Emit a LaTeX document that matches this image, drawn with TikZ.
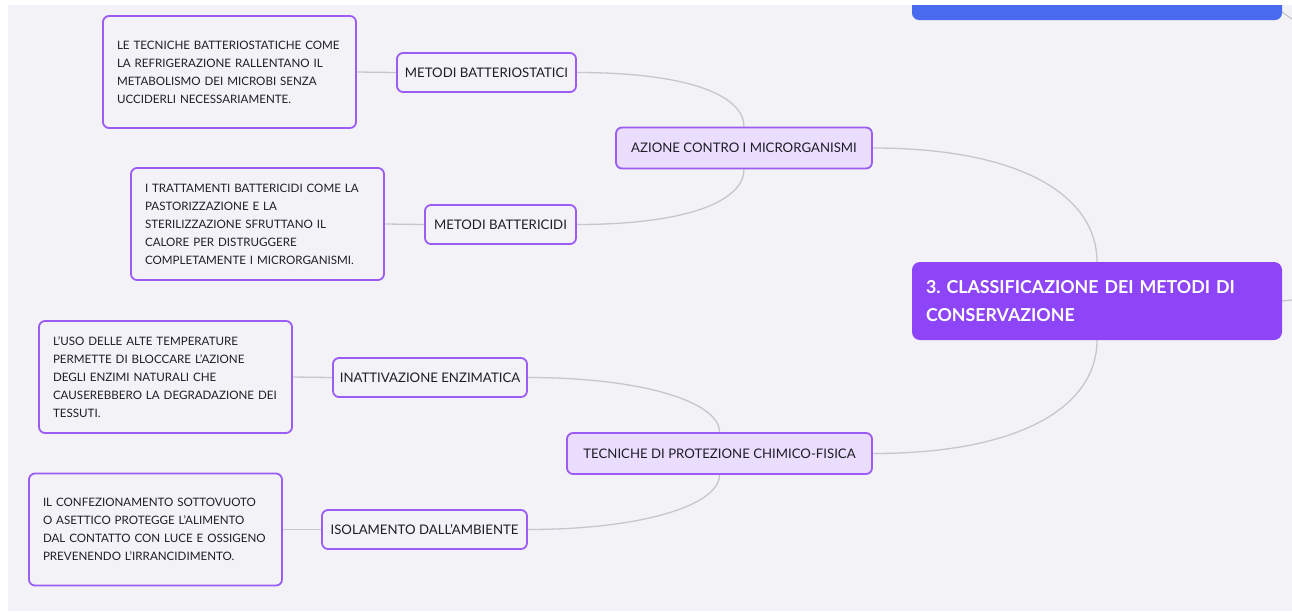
\documentclass[tikz,border=0pt]{standalone}
\usepackage{fontspec}
\setmainfont{Lato}
\frenchspacing
\definecolor{canvas}{HTML}{F2F2F7}
\definecolor{vio}{HTML}{9C5CF3}
\definecolor{lav}{HTML}{EBDDFD}
\definecolor{rootpurple}{HTML}{8E45F8}
\definecolor{barblue}{HTML}{4A6AF0}
\definecolor{gline}{HTML}{C6C6CC}
\definecolor{ink}{HTML}{1E1E28}
\pgfdeclarelayer{back}
\pgfsetlayers{back,main}
\begin{document}
\begin{tikzpicture}[x=1pt,y=-1pt,
  leaf/.style={draw=vio, line width=1.8pt, rounded corners=6pt, fill=canvas,
    text width=225pt, inner xsep=14pt, inner ysep=0pt, minimum height=112pt,
    align=left, text=ink, font=\fontsize{11.6}{18}\selectfont},
  topic/.style={draw=vio, line width=1.8pt, rounded corners=6pt, fill=canvas,
    inner sep=0pt, minimum height=39pt, text=ink,
    font=\fontsize{13.2}{15}\selectfont},
  branch/.style={topic, fill=lav, minimum height=41pt},
  rootnode/.style={fill=rootpurple, rounded corners=8pt, text width=342pt,
    inner xsep=14pt, inner ysep=0pt, minimum height=78pt, align=left,
    text=white, font=\fontsize{17.8}{28}\selectfont\bfseries},
  link/.style={draw=gline, line width=1.3pt}]
\useasboundingbox (0,0) rectangle (1292,611);

% root and the end of the previous section
\node[rootnode] (root) at (1097,301) {3. CLASSIFICAZIONE DEI METODI DI\\CONSERVAZIONE};
\begin{scope}
  \clip (8,5) rectangle (1292,611);
  \node[fill=barblue, rounded corners=7pt, minimum width=370pt, minimum height=30pt, inner sep=0pt] (prev) at (1097,5) {};
\end{scope}
\coordinate (prevend) at (1282,12);
\coordinate (prevout) at (1292,19);
\coordinate (rootout) at (1292,300);

% first branch
\node[branch, minimum width=256pt] (azione) at (744,148) {AZIONE CONTRO I MICRORGANISMI};
\node[topic, minimum width=179pt] (bstat) at (486.5,72.5) {METODI BATTERIOSTATICI};
\node[topic, minimum width=151pt] (bcid) at (500.5,224.5) {METODI BATTERICIDI};
\node[leaf] (lstat) at (229.5,72) {\mbox{LE TECNICHE BATTERIOSTATICHE COME}\\LA REFRIGERAZIONE RALLENTANO IL\\METABOLISMO DEI MICROBI SENZA\\UCCIDERLI NECESSARIAMENTE.};
\node[leaf] (lcid) at (257.5,224) {\mbox{I TRATTAMENTI BATTERICIDI COME LA}\\PASTORIZZAZIONE E LA\\STERILIZZAZIONE SFRUTTANO IL\\CALORE PER DISTRUGGERE\\\mbox{COMPLETAMENTE I MICRORGANISMI.}};

% second branch
\node[branch, minimum width=305pt] (tec) at (719.5,453.5) {TECNICHE DI PROTEZIONE CHIMICO-FISICA};
\node[topic, minimum width=194pt] (enz) at (430,377.5) {INATTIVAZIONE ENZIMATICA};
\node[topic, minimum width=205pt] (iso) at (424.5,529.5) {ISOLAMENTO DALL’AMBIENTE};
\node[leaf] (lenz) at (165.5,377) {L’USO DELLE ALTE TEMPERATURE\\PERMETTE DI BLOCCARE L’AZIONE\\DEGLI ENZIMI NATURALI CHE\\\mbox{CAUSEREBBERO LA DEGRADAZIONE DEI}\\TESSUTI.};
\node[leaf] (liso) at (155.5,529.5) {IL CONFEZIONAMENTO SOTTOVUOTO\\O ASETTICO PROTEGGE L’ALIMENTO\\\mbox{DAL CONTATTO CON LUCE E OSSIGENO}\\PREVENENDO L’IRRANCIDIMENTO.};

\begin{pgfonlayer}{back}
  \fill[white] (0,0) rectangle (1292,611);
  \fill[canvas] (8,5) rectangle (1292,611);
  \draw[link] (prevend) -- (prevout);
  \draw[link] (root.east) -- (rootout);
  \draw[link] (azione.east) .. controls +(150,0) and +(0,-65) .. (root.north);
  \draw[link] (root.south) .. controls +(0,65) and +(150,0) .. (tec.east);
  \draw[link] (bstat.east) .. controls +(115,0) and +(0,-30) .. (azione.north);
  \draw[link] (bcid.east) .. controls +(115,0) and +(0,30) .. (azione.south);
  \draw[link] (enz.east) .. controls +(115,0) and +(0,-30) .. (tec.north);
  \draw[link] (iso.east) .. controls +(115,0) and +(0,30) .. (tec.south);
  \draw[link] (lstat.east) -- (bstat.west);
  \draw[link] (lcid.east) -- (bcid.west);
  \draw[link] (lenz.east) -- (enz.west);
  \draw[link] (liso.east) -- (iso.west);
\end{pgfonlayer}
\end{tikzpicture}
\end{document}
